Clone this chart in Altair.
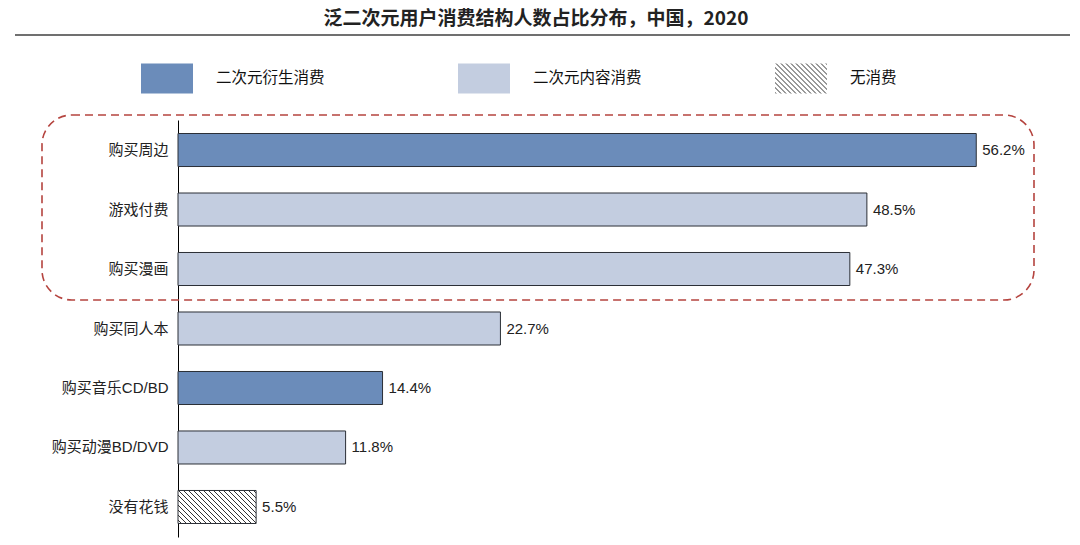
import altair as alt
import pandas as pd

# ---- data ----
categories = ["购买周边", "游戏付费", "购买漫画", "购买同人本", "购买音乐CD/BD", "购买动漫BD/DVD", "没有花钱"]
values = [56.2, 48.5, 47.3, 22.7, 14.4, 11.8, 5.5]
types = ["二次元衍生消费", "二次元内容消费", "二次元内容消费", "二次元内容消费",
         "二次元衍生消费", "二次元内容消费", "无消费"]
legend_order = ["二次元衍生消费", "二次元内容消费", "无消费"]
legend_colors = ["#6b8cba", "#c3cde0", "url(#hatch)"]
title_text = "泛二次元用户消费结构人数占比分布，中国，2020"

df = pd.DataFrame({
    "category": categories,
    "value": values,
    "type": types,
    "label": [f"{v:.1f}%" for v in values],
})
one = pd.DataFrame({"k": [0]})

CJK = "Liberation Sans, Noto Sans CJK SC"

x_enc = alt.X("value:Q", scale=alt.Scale(domain=[0, 62.8], nice=False, zero=True), axis=None)
y_enc = alt.Y(
    "category:N",
    sort=categories,
    scale=alt.Scale(paddingInner=0.445, paddingOuter=0.227),
    axis=alt.Axis(
        title=None, ticks=False, grid=False, domainColor="#000000", domainWidth=1,
        labelFont=CJK, labelFontSize=15, labelColor="#222222", labelPadding=10,
    ),
)

bars = alt.Chart(df).mark_bar(stroke="#2b2f36", strokeWidth=1).encode(
    x=x_enc,
    y=y_enc,
    color=alt.Color(
        "type:N",
        scale=alt.Scale(domain=legend_order, range=legend_colors),
        legend=alt.Legend(
            orient="none", legendX=-37, legendY=-68, direction="horizontal",
            title=None, padding=0,
            symbolType="M-1,-0.577H1V0.577H-1Z", symbolSize=2704,
            symbolStrokeWidth=0, symbolOpacity=1,
            labelFont="Noto Sans CJK SC", labelFontSize=15.5, labelColor="#111111",
            labelOffset=23, columnPadding=133,
        ),
    ),
)

labels = alt.Chart(df).mark_text(
    align="left", baseline="middle", dx=6, fontSize=15, font="Liberation Sans", color="#222222"
).encode(x=x_enc, y=alt.Y("category:N", sort=categories), text="label:N")

title = alt.Chart(one).mark_text(
    align="center", baseline="middle", fontSize=19, fontWeight="bold",
    font="Noto Sans CJK SC", color="#222222"
).encode(x=alt.value(358), y=alt.value(-101), text=alt.value(title_text))

title_rule = alt.Chart(one).mark_rule(color="#404040", strokeWidth=1.5).encode(
    x=alt.value(-163), x2=alt.value(892), y=alt.value(-85)
)

frame = alt.Chart(one).mark_rect(
    cornerRadius=30, strokeDash=[8, 5], stroke="#b5443f", strokeWidth=1.6, fillOpacity=0
).encode(x=alt.value(-136), x2=alt.value(856), y=alt.value(-5), y2=alt.value(180))

chart = alt.layer(frame, bars, labels, title, title_rule).properties(
    width=892, height=417,
    padding={"left": 178, "top": 120, "right": 10, "bottom": 8},
    autosize=alt.AutoSizeParams(type="none"),
).configure_view(strokeOpacity=0).resolve_scale(y="shared")

chart.save("out.html", embed_options={"renderer": "svg", "actions": False})

# add hatch pattern definition used by the "无消费" fill
pattern = (
    '<svg width="0" height="0" style="position:absolute"><defs>'
    '<pattern id="hatch" patternUnits="userSpaceOnUse" width="5" height="5">'
    '<rect width="5" height="5" fill="#ffffff"/>'
    '<path d="M-1,-1 L6,6 M-1,4 L1,6 M4,-1 L6,1" stroke="#333333" stroke-width="1"/>'
    '</pattern></defs></svg>'
)
with open("out.html", encoding="utf-8") as f:
    html = f.read()
html = html.replace("<body>", "<body>" + pattern, 1)
with open("out.html", "w", encoding="utf-8") as f:
    f.write(html)
